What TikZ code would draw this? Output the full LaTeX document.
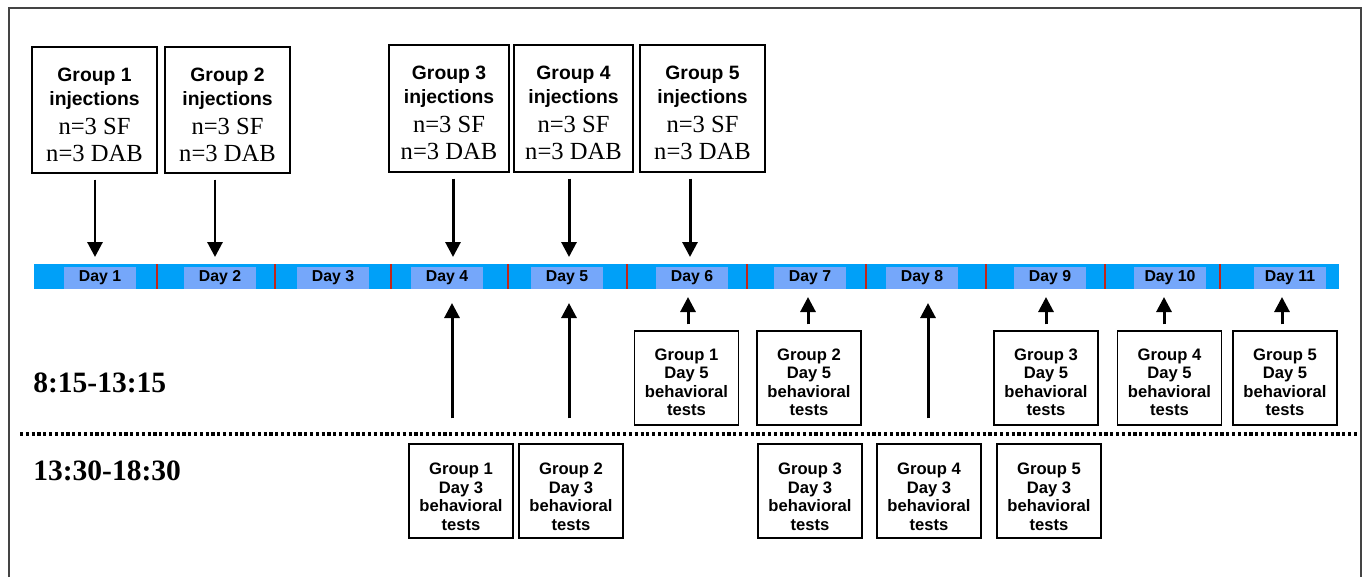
\documentclass[tikz,border=0pt]{standalone}
\usepackage{fontspec}
\setmainfont{Liberation Serif}
\setsansfont{Liberation Sans}
\usepackage{tikz}
\usetikzlibrary{arrows.meta,positioning}
\definecolor{barblue}{HTML}{00A0F8}
\definecolor{daybox}{HTML}{75A7FA}
\definecolor{sepred}{HTML}{C0261A}
\definecolor{framegray}{HTML}{444444}
\newcommand{\injfont}{\fontsize{11pt}{15.2pt}\sffamily\bfseries\selectfont}
\newcommand{\behfont}{\fontsize{9.45pt}{10.6pt}\sffamily\bfseries\selectfont}
\newcommand{\dayfont}{\fontsize{9pt}{10pt}\sffamily\bfseries\selectfont}
\newcommand{\cnt}[1]{{\rmfamily\mdseries\fontsize{14pt}{15.2pt}\selectfont #1}}
\newcommand{\injtext}[1]{\rule{0pt}{13pt}Group #1\\[-1.5pt]injections\\[1.1pt]\cnt{n=3 SF}\\[0.3pt]\cnt{n=3 DAB}}
\newcommand{\behtext}[2]{\rule{0pt}{#2}Group #1\\Day 5\\behavioral\\tests}
\newcommand{\behthree}[1]{\rule{0pt}{13pt}Group #1\\Day 3\\behavioral\\tests}

\begin{document}
\begin{tikzpicture}[
  inj/.style={draw,line width=0.8pt,minimum width=2.5cm,minimum height=2.52cm,align=center,inner sep=1pt,font=\injfont},
  beh/.style={draw,line width=0.8pt,minimum width=2.08cm,minimum height=1.88cm,align=center,inner sep=1pt,font=\behfont},
  day/.style={fill=daybox,minimum width=1.44cm,minimum height=0.44cm,inner sep=0pt,font=\dayfont},
  slot/.style={anchor=west,inner sep=0pt,font=\fontsize{16.8pt}{18pt}\rmfamily\bfseries\selectfont},
  arr/.style={-{Triangle[length=0.3cm,width=0.3cm]},line width=1.7pt}
]
\useasboundingbox (0,0) rectangle (27.4,-11.54);
\draw[framegray,line width=0.8pt] (0.18,-11.54) |- (27.22,-0.16) -- (27.22,-11.54);
% timeline
\fill[barblue] (0.68,-5.28) rectangle (26.78,-5.78);
\foreach \x in {3.14,5.5,7.82,10.16,12.54,14.94,17.32,19.72,22.1,24.4}
  \draw[sepred,line width=1.4pt] (\x,-5.28) -- (\x,-5.78);
\foreach \d/\x in {1/2.0,2/4.4,3/6.66,4/8.94,5/11.34,6/13.84,7/16.2,8/18.44,9/21.0,10/23.4,11/25.8}
  \node[day] (d\d) at (\x,-5.56) {Day \d};
% injections
\node[inj] (g1) at (1.89,-2.2) {\injtext{1}};
\node[inj] (g2) at (4.55,-2.2) {\injtext{2}};
\node[inj,minimum width=2.4cm,minimum height=2.54cm] (g3) at (8.98,-2.17) {\injtext{3}};
\node[inj,minimum width=2.38cm,minimum height=2.54cm] (g4) at (11.47,-2.17) {\injtext{4}};
\node[inj,minimum height=2.54cm] (g5) at (14.05,-2.17) {\injtext{5}};
% behavioral tests
\node[beh] (c1) at (13.73,-7.56) {\behtext{1}{11.5pt}};
\node[beh] (c2) at (16.18,-7.56) {\behtext{2}{11.5pt}};
\node[beh] (c3) at (20.92,-7.56) {\behtext{3}{11.5pt}};
\node[beh] (c4) at (23.39,-7.56) {\behtext{4}{11.5pt}};
\node[beh] (c5) at (25.7,-7.56) {\behtext{5}{11.5pt}};
\node[beh] (e1) at (9.22,-9.82) {\behthree{1}};
\node[beh] (e2) at (11.42,-9.82) {\behthree{2}};
\node[beh] (e3) at (16.2,-9.82) {\behthree{3}};
\node[beh] (e4) at (18.58,-9.82) {\behthree{4}};
\node[beh] (e5) at (20.98,-9.82) {\behthree{5}};
\node[slot] (am) at (0.66,-7.66) {8:15-13:15};
\node[slot] (pm) at (0.66,-9.42) {13:30-18:30};
\draw[line width=1.8pt,dash pattern=on 1.8pt off 1.5pt] (0.4,-8.68) -- (27.16,-8.68);
% arrow tips
\coordinate (t1) at (1.9,-5.14);
\coordinate (t2) at (4.3,-5.14);
\coordinate (t4) at (9.06,-5.14);
\coordinate (t5) at (11.38,-5.14);
\coordinate (t6) at (13.8,-5.14);
\coordinate (u4) at (9.04,-6.06);
\coordinate (u5) at (11.38,-6.06);
\coordinate (u8) at (18.56,-6.06);
\coordinate (u6) at (13.76,-5.94);
\coordinate (u7) at (16.16,-5.94);
\coordinate (u9) at (20.92,-5.94);
\coordinate (u10) at (23.28,-5.94);
\coordinate (u11) at (25.64,-5.94);
\foreach \g/\t in {g1/t1,g2/t2,g3/t4,g4/t5,g5/t6} \draw[arr,shorten <=0.12cm] (\g.south -| \t) -- (\t);
\foreach \c/\u in {c1/u6,c2/u7,c3/u9,c4/u10,c5/u11} \draw[arr,shorten <=0.12cm] (\c.north -| \u) -- (\u);
\foreach \e/\u in {e1/u4,e2/u5,e4/u8} \draw[arr,shorten <=0.5cm] (\e.north -| \u) -- (\u);
\end{tikzpicture}
\end{document}
